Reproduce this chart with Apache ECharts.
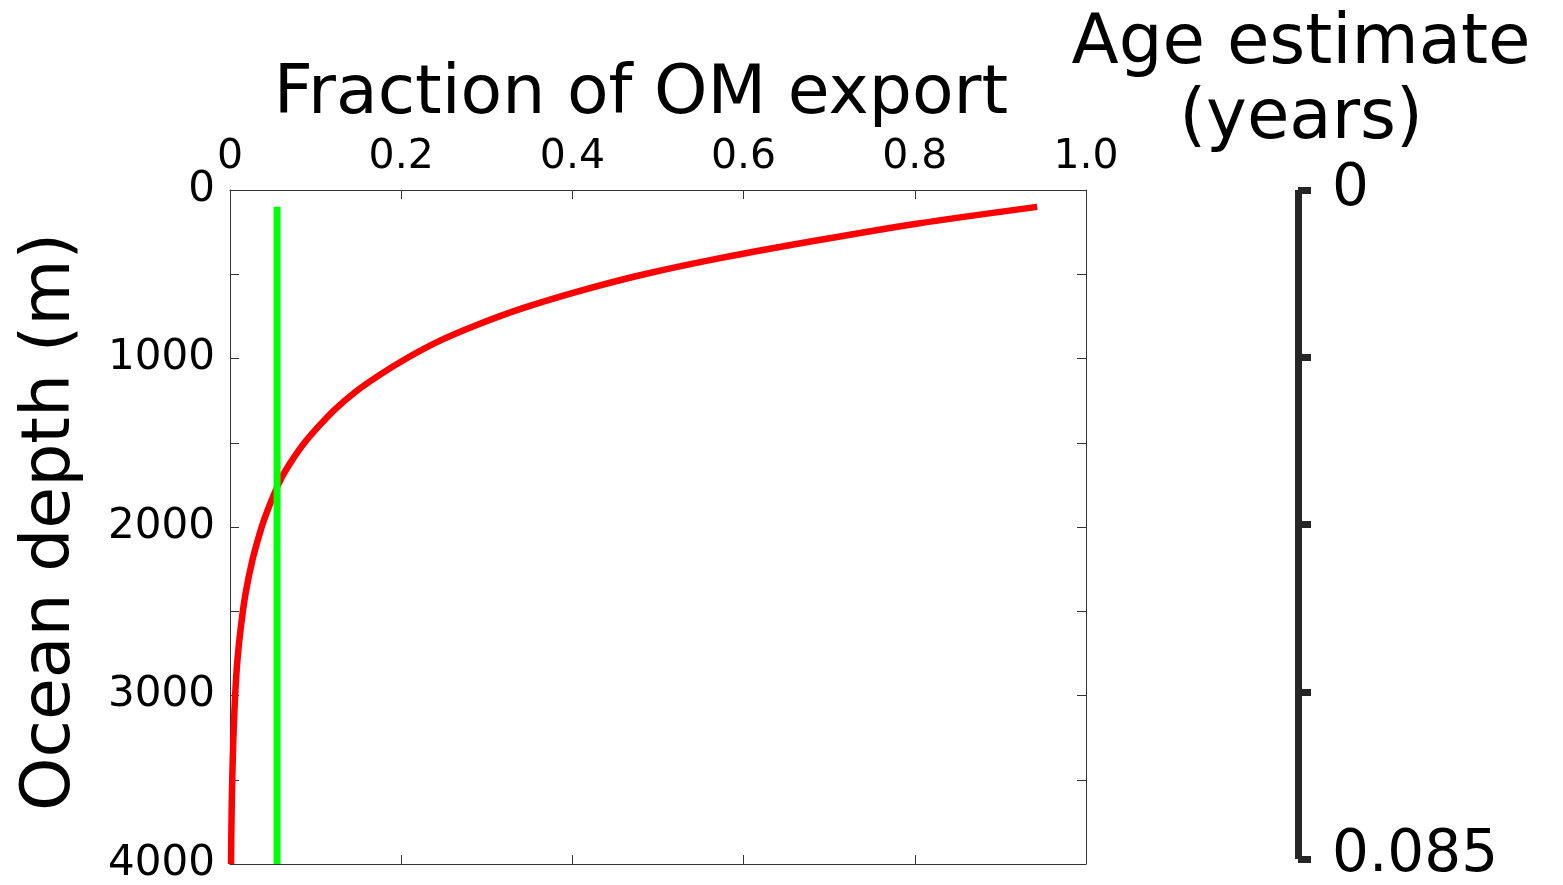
<!DOCTYPE html>
<html>
<head>
<meta charset="utf-8">
<script src="https://cdn.jsdelivr.net/npm/echarts@6/dist/echarts.min.js"></script>
<style>
html,body{margin:0;padding:0;background:#fff;}
#c{width:1563px;height:885px;}
</style>
</head>
<body>
<div id="c"></div>
<script>
// Red curve: fraction of OM export vs depth
const depthRed = [100, 200, 300, 400, 500, 600, 700, 800, 900, 1000, 1100, 1200, 1300, 1400, 1500, 1600, 1700, 1800, 1900, 2000, 2200, 2400, 2600, 2800, 3000, 3200, 3400, 3600, 3800, 4000];
const fracRed  = [0.943, 0.802, 0.685, 0.577, 0.484, 0.408, 0.343, 0.289, 0.243, 0.206, 0.174, 0.146, 0.123, 0.104, 0.087, 0.073, 0.061, 0.052, 0.044, 0.037, 0.026, 0.018, 0.0125, 0.0085, 0.006, 0.0043, 0.0031, 0.0022, 0.0016, 0.0012];
// Green vertical line
const depthGreen = [100, 4000];
const fracGreen  = [0.055, 0.055];
// Axis ticks
const xTickLabels = ['0', '0.2', '0.4', '0.6', '0.8', '1.0'];
const ageMin = 0, ageMax = 0.085;
const ageLabels = ['0', '0.085'];

const FONT = 'DejaVu Sans';
const AX = '#333333';
const chart = echarts.init(document.getElementById('c'), null, {renderer: 'canvas'});

const xFmt = function (v) {
  const i = Math.round(v / 0.2);
  return Math.abs(v - i * 0.2) < 1e-9 ? xTickLabels[i] : '';
};

chart.setOption({
  backgroundColor: '#fff',
  animation: false,
  grid: [
    {left: 230, top: 190, width: 856, height: 678},
    {left: 1297, top: 190, width: 1, height: 678}
  ],
  xAxis: [
    {type: 'value', gridIndex: 0, position: 'top', min: 0, max: 1, interval: 0.2,
     axisLine: {show: true, onZero: false, lineStyle: {color: AX, width: 1}},
     axisTick: {show: true, inside: true, length: 9, lineStyle: {color: AX}},
     axisLabel: {formatter: xFmt, fontFamily: FONT, fontSize: 41, color: '#000', margin: 12},
     splitLine: {show: false}},
    {type: 'value', gridIndex: 0, position: 'bottom', min: 0, max: 1, interval: 0.2,
     axisLine: {show: true, onZero: false, lineStyle: {color: AX, width: 1}},
     axisTick: {show: true, inside: true, length: 9, lineStyle: {color: AX}},
     axisLabel: {show: false}, splitLine: {show: false}},
    {type: 'value', gridIndex: 1, show: false, min: 0, max: 1}
  ],
  yAxis: [
    {type: 'value', gridIndex: 0, position: 'left', inverse: true, min: 0, max: 4000, interval: 500,
     axisLine: {show: true, onZero: false, lineStyle: {color: AX, width: 1}},
     axisTick: {show: true, inside: true, length: 9, lineStyle: {color: AX}},
     axisLabel: {formatter: function (v) { return v % 1000 === 0 ? String(v) : ''; },
                 fontFamily: FONT, fontSize: 42, color: '#000', margin: 15,
                 showMinLabel: true, showMaxLabel: true},
     splitLine: {show: false}},
    {type: 'value', gridIndex: 0, position: 'right', inverse: true, min: 0, max: 4000, interval: 500,
     axisLine: {show: true, onZero: false, lineStyle: {color: AX, width: 1}},
     axisTick: {show: true, inside: true, length: 9, lineStyle: {color: AX}},
     axisLabel: {show: false}, splitLine: {show: false}},
    {type: 'value', gridIndex: 1, position: 'right', inverse: true, min: ageMin, max: ageMax, interval: (ageMax - ageMin) / 4,
     axisLine: {show: true, onZero: false, lineStyle: {color: '#262626', width: 7, cap: 'butt'}},
     axisTick: {show: true, inside: false, length: 13, lineStyle: {color: '#262626', width: 7}},
     axisLabel: {showMinLabel: true, showMaxLabel: true, margin: 34,
                 formatter: function (v) {
                   if (Math.abs(v - ageMin) < 1e-9) return '{a|' + ageLabels[0] + '}';
                   if (Math.abs(v - ageMax) < 1e-9) return '{b|' + ageLabels[1] + '}';
                   return '';
                 },
                 rich: {
                   a: {fontFamily: FONT, fontSize: 58, color: '#000'},
                   b: {fontFamily: FONT, fontSize: 58, color: '#000', padding: [0, 0, 6, 0]}
                 }},
     splitLine: {show: false}}
  ],
  series: [
    {type: 'line', xAxisIndex: 0, yAxisIndex: 0, data: fracRed.map((f, i) => [f, depthRed[i]]),
     smooth: 0.3, showSymbol: false, lineStyle: {color: '#ff0000', width: 6.5}, silent: true},
    {type: 'line', xAxisIndex: 0, yAxisIndex: 0, data: fracGreen.map((f, i) => [f, depthGreen[i]]),
     showSymbol: false, lineStyle: {color: '#00ff00', width: 7}, silent: true}
  ],
  graphic: [
    {type: 'text', x: 641, y: 95, style: {text: 'Fraction of OM export', font: '68px "DejaVu Sans"', fill: '#000', align: 'center', verticalAlign: 'middle'}},
    {type: 'text', x: 51, y: 522, rotation: Math.PI / 2, style: {text: 'Ocean depth (m)', font: '68px "DejaVu Sans"', fill: '#000', align: 'center', verticalAlign: 'middle'}},
    {type: 'text', x: 1301, y: 45, style: {text: 'Age estimate', font: '69px "DejaVu Sans"', fill: '#000', align: 'center', verticalAlign: 'middle'}},
    {type: 'text', x: 1301, y: 120, style: {text: '(years)', font: '69px "DejaVu Sans"', fill: '#000', align: 'center', verticalAlign: 'middle'}}
  ]
});
</script>
</body>
</html>
